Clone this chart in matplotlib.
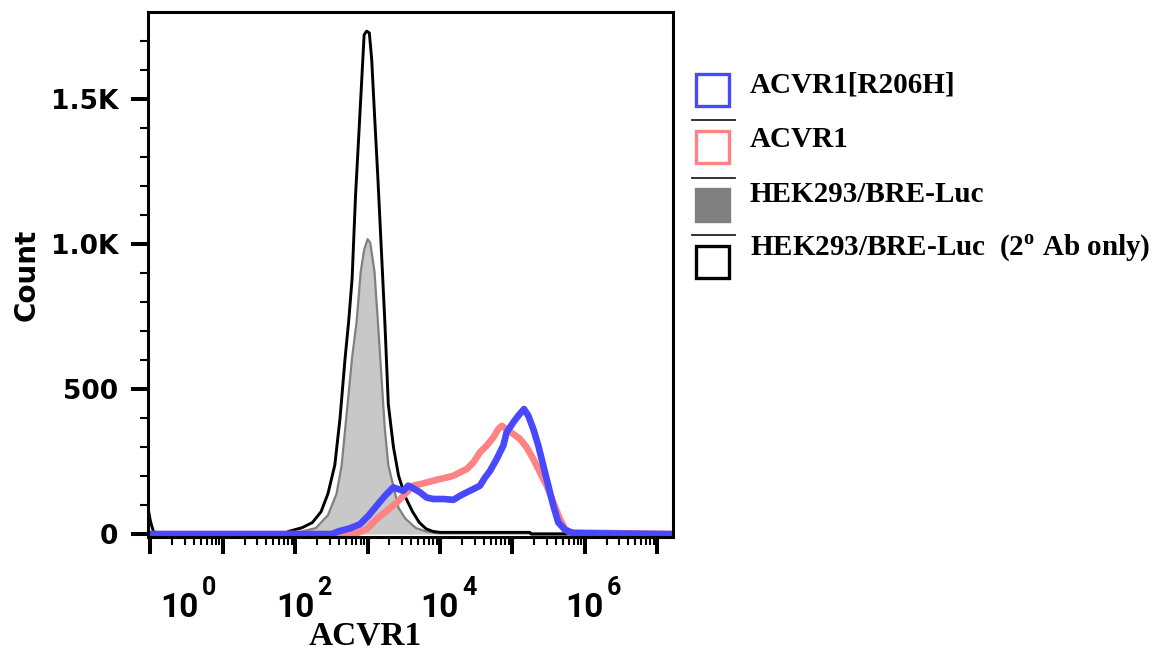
import numpy as np
import matplotlib
matplotlib.use("Agg")
import matplotlib.pyplot as plt
from matplotlib.patches import Rectangle
from matplotlib.lines import Line2D
from matplotlib.ticker import LogLocator, NullFormatter, FixedLocator, FixedFormatter
import matplotlib.transforms as mtransforms

plt.rcParams['mathtext.fontset'] = 'custom'
plt.rcParams['mathtext.rm'] = 'Liberation Serif:bold'
plt.rcParams['mathtext.bf'] = 'Liberation Serif:bold'

# histogram outlines, x as log10 of ACVR1 intensity, y as event count
ab2_log = [-0.04, 0.0, 0.04, 0.1, 1.85, 1.905, 2.095, 2.238, 2.357, 2.452, 2.547, 2.619, 2.690,
           2.738, 2.786, 2.833, 2.881, 2.952, 2.986, 3.024, 3.057, 3.095, 3.142, 3.190,
           3.238, 3.286, 3.357, 3.428, 3.523, 3.619, 3.714, 3.809, 3.905, 4.0, 5.24, 5.26, 7.22]
ab2_count = [100, 45, 10, 0, 0, 9, 22, 40, 77, 139, 238, 399, 609,
             732, 881, 1165, 1388, 1721, 1734, 1728, 1635, 1449, 1227, 980,
             732, 448, 300, 201, 127, 78, 40, 18, 9, 6, 6, 0, 0]

parent_log = [1.85, 2.095, 2.286, 2.452, 2.571, 2.642, 2.714, 2.786, 2.848, 2.905, 2.952, 3.0,
              3.037, 3.095, 3.142, 3.19, 3.238, 3.286, 3.357, 3.428, 3.523, 3.667, 3.809,
              3.953, 5.70, 5.72]
parent_count = [0, 9, 21, 65, 139, 238, 423, 609, 732, 905, 980, 1017,
                1004, 905, 732, 547, 362, 238, 164, 90, 53, 21, 9,
                3, 3, 0]

wt_log = [-0.04, 2.70, 2.849, 2.987, 3.126, 3.264, 3.402, 3.540, 3.631, 3.724, 3.816, 3.907,
          4.0, 4.093, 4.184, 4.276, 4.369, 4.460, 4.552, 4.645, 4.736, 4.805, 4.852, 4.921,
          5.012, 5.105, 5.197, 5.289, 5.381, 5.474, 5.565, 5.657, 5.727, 5.796, 7.22]
wt_count = [0, 0, 3, 17, 52, 80, 109, 144, 167, 172, 178, 184,
            190, 195, 201, 213, 224, 247, 282, 305, 333, 362, 373, 362,
            345, 328, 299, 259, 213, 167, 109, 52, 17, 6, 0]

mut_log = [-0.04, 2.50, 2.619, 2.757, 2.895, 3.010, 3.126, 3.240, 3.355, 3.424, 3.493, 3.562,
           3.631, 3.724, 3.816, 3.907, 4.046, 4.184, 4.276, 4.369, 4.460, 4.552, 4.622, 4.691,
           4.783, 4.874, 4.921, 5.012, 5.081, 5.160, 5.220, 5.289, 5.358, 5.427, 5.496, 5.565,
           5.634, 5.727, 5.841, 7.22]
mut_count = [0, 0, 11, 20, 34, 63, 98, 132, 161, 155, 149, 167,
             158, 144, 126, 121, 121, 118, 132, 144, 155, 167, 195, 218,
             259, 305, 351, 385, 408, 431, 408, 362, 305, 236, 167, 98,
             40, 15, 3, 0]

legend_labels = ["ACVR1[R206H]", "ACVR1", "HEK293/BRE-Luc",
                 r"HEK293/BRE-Luc  (2$^{\mathbf{o}}$ Ab only)"]
y_ticks = [0, 500, 1000, 1500]
y_ticklabels = ["0", "500", "1.0K", "1.5K"]
x_label_exp = [0, 2, 4, 6]
x_label_pos = [0.41, 2, 4, 6]

blue = "#4848ff"
pink = "#ff8383"

W, H = 1163, 652
fig = plt.figure(figsize=(W / 100, H / 100), dpi=100)
ax = fig.add_axes([147.5 / W, 1 - 537 / H, (672.7 - 147.5) / W, (537 - 12) / H])

x = lambda v: 10 ** np.array(v)
ax.fill_between(x(parent_log), parent_count, color="#c8c8c8", lw=0)
ax.plot(x(parent_log), parent_count, color="#808080", lw=1.6)
ax.plot(x(ab2_log), ab2_count, color="black", lw=2.1)
ax.plot(x(wt_log), wt_count, color=pink, lw=4.8, solid_joinstyle="round")
ax.plot(x(mut_log), mut_count, color=blue, lw=4.8, solid_joinstyle="round")

ax.set_xscale("log")
ax.set_xlim(10 ** -0.04, 10 ** 7.214)
ax.set_ylim(-10, 1800)

for s in ax.spines.values():
    s.set_linewidth(2.2)

ax.yaxis.set_major_locator(FixedLocator(y_ticks))
ax.yaxis.set_major_formatter(FixedFormatter(y_ticklabels))
ax.yaxis.set_minor_locator(FixedLocator(np.arange(0, 1800, 100)))
ax.tick_params(axis="y", which="major", length=12, width=2.9, pad=9,
               labelsize=19)
ax.tick_params(axis="y", which="minor", length=5.5, width=1.5)
for lab in ax.get_yticklabels():
    lab.set_fontweight("bold")
    lab.set_family("DejaVu Sans")

ax.xaxis.set_major_locator(LogLocator(base=10, numticks=20))
ax.xaxis.set_minor_locator(LogLocator(base=10, subs=np.arange(2, 10), numticks=20))
ax.xaxis.set_major_formatter(NullFormatter())
ax.xaxis.set_minor_formatter(NullFormatter())
ax.tick_params(axis="x", which="major", length=12, width=2.9)
ax.tick_params(axis="x", which="minor", length=5.5, width=1.5)

# decade labels drawn as base + raised exponent
trans = mtransforms.blended_transform_factory(ax.transData, ax.transAxes)
for e, p in zip(x_label_exp, x_label_pos):
    base = mtransforms.offset_copy(trans, fig=fig, x=19, y=-80, units="dots")
    ax.text(10 ** p, 0, "10", transform=base, ha="right", va="baseline",
            fontsize=24, fontweight="bold", family="Roboto")
    sup = mtransforms.offset_copy(trans, fig=fig, x=22, y=-58, units="dots")
    ax.text(10 ** p, 0, str(e), transform=sup, ha="left", va="baseline",
            fontsize=18, fontweight="bold", family="Roboto")

fig.text(365 / W, 1 - 636 / H, "ACVR1", ha="center", va="center",
         fontsize=24, fontweight="bold", family="Liberation Serif")
fig.text(27 / W, 1 - 275 / H, "Count", ha="center", va="center", rotation=90,
         fontsize=20, fontweight="bold", family="DejaVu Sans")

# legend boxes, separators and labels
styles = [dict(facecolor="none", edgecolor=blue),
          dict(facecolor="none", edgecolor=pink),
          dict(facecolor="#808080", edgecolor="#808080"),
          dict(facecolor="none", edgecolor="black")]
for i, (lab, st) in enumerate(zip(legend_labels, styles)):
    top = 73 + i * 57.3
    fig.add_artist(Rectangle((695.5 / W, 1 - (top + 33) / H), 33 / W, 32 / H,
                             transform=fig.transFigure, lw=2.4, **st))
    if i > 0:
        fig.add_artist(Line2D([692 / W, 735 / W], [1 - (top - 10) / H] * 2,
                              transform=fig.transFigure, color="#222222", lw=1.3))
    fig.text(750 / W, 1 - (93 + i * 54.3) / H, lab, ha="left", va="baseline",
             fontsize=21, fontweight="bold", family="Liberation Serif")

fig.savefig("out.png", dpi=100)
